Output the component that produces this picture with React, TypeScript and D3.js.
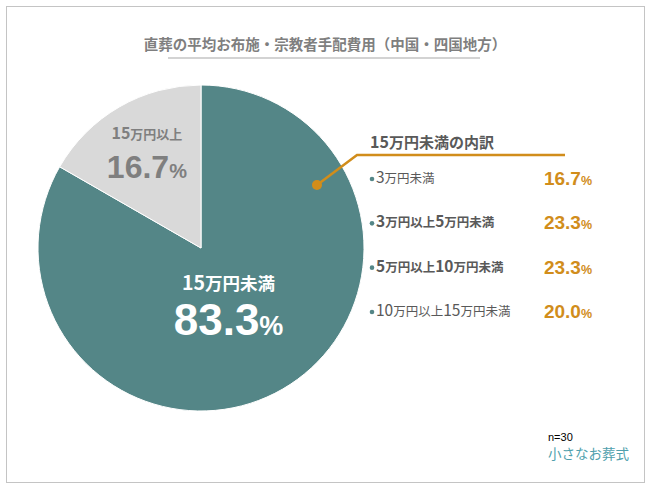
import * as d3 from 'd3'

const W = 650
const H = 487

const TITLE = '直葬の平均お布施・宗教者手配費用（中国・四国地方）'
const pieLabels = ['15万円未満', '15万円以上']
const pieValues = [83.3, 16.7]
const pieColors = ['#548687', '#d9d9d9']

const breakdownTitle = '15万円未満の内訳'
const breakdownLabels = ['3万円未満', '3万円以上5万円未満', '5万円以上10万円未満', '10万円以上15万円未満']
const breakdownValues = [16.7, 23.3, 23.3, 20.0]
const breakdownBold = [false, true, true, false]

const SAMPLE = 'n=30'
const BRAND = '小さなお葬式'

const FONT = '"Noto Sans CJK JP", "Noto Sans", sans-serif'
const NUM_FONT = '"Liberation Sans", Arial, sans-serif'
const ORANGE = '#d18d1b'
const GRAY_TEXT = '#595959'

const CX = 201
const CY = 248
const R = 163

// split "3万円以上5万円未満" into digit / non-digit runs so numbers can be larger
function runs(s: string) {
  return s.match(/\d+|\D+/g) ?? []
}

// point at a given angle (clockwise from 12 o'clock) and radius from pie centre
function polar(angle: number, r: number) {
  return [CX + r * Math.sin(angle), CY - r * Math.cos(angle)]
}

export default function App() {
  const pie = d3.pie<number>().sort(null).value(d => d)
  const arcs = pie(pieValues)
  const arc = d3.arc<d3.PieArcDatum<number>>().innerRadius(0).outerRadius(R)

  const mid = (a: d3.PieArcDatum<number>) => (a.startAngle + a.endAngle) / 2
  const mainPos = polar(mid(arcs[0]), 55)
  const smallPos = polar(mid(arcs[1]) - 2 * Math.PI, 108)

  // leader dot inside the main slice
  const dot = polar(1.073, 132)

  const rowY = d3.scalePoint<number>().domain(d3.range(breakdownLabels.length)).range([178, 311])

  return (
    <svg width={W} height={H} style={{ position: 'absolute', left: 0, top: 0, background: '#fff' }}>
      <rect x={6.5} y={6.5} width={638} height={476} fill="#fff" stroke="#c4c4c4" strokeWidth={1} />

      {/* title */}
      <text x={325} y={50} textAnchor="middle" fontFamily={FONT} fontWeight={700} fontSize={14.5} fill="#7f7f7f">
        {TITLE}
      </text>
      <line x1={168} x2={480} y1={58} y2={58} stroke="#d3d3d3" strokeWidth={2} />

      {/* pie */}
      <g transform={`translate(${CX},${CY})`}>
        {arcs.map((a, i) => (
          <path key={i} d={arc(a) ?? ''} fill={pieColors[i]} stroke="#fff" strokeWidth={1} />
        ))}
      </g>

      {/* slice labels */}
      <text x={smallPos[0]} y={smallPos[1] - 16} textAnchor="middle" fontFamily={FONT} fontWeight={700} fill="#7f7f7f">
        {runs(pieLabels[1]).map((r, i) => (
          <tspan key={i} fontSize={/\d/.test(r) ? 16 : 13}>{r}</tspan>
        ))}
      </text>
      <text x={smallPos[0]} y={smallPos[1] + 23} textAnchor="middle" fontFamily={NUM_FONT} fontWeight={700} fill="#7f7f7f">
        <tspan fontSize={32}>{pieValues[1].toFixed(1)}</tspan>
        <tspan fontSize={20}>%</tspan>
      </text>

      <text x={mainPos[0]} y={mainPos[1] - 6} textAnchor="middle" fontFamily={FONT} fontWeight={700} fill="#fff">
        {runs(pieLabels[0]).map((r, i) => (
          <tspan key={i} fontSize={/\d/.test(r) ? 19.5 : 17.5}>{r}</tspan>
        ))}
      </text>
      <text x={mainPos[0]} y={mainPos[1] + 39} textAnchor="middle" fontFamily={NUM_FONT} fontWeight={700} fill="#fff">
        <tspan fontSize={44}>{pieValues[0].toFixed(1)}</tspan>
        <tspan fontSize={27}>%</tspan>
      </text>

      {/* leader */}
      <polyline points={`${dot[0]},${dot[1]} 357,155 565,155`} fill="none" stroke={ORANGE} strokeWidth={2.5} />
      <circle cx={dot[0]} cy={dot[1]} r={5} fill={ORANGE} />

      {/* breakdown */}
      <text x={370} y={148} fontFamily={FONT} fontWeight={700} fill={GRAY_TEXT}>
        {runs(breakdownTitle).map((r, i) => (
          <tspan key={i} fontSize={/\d/.test(r) ? 16 : 15}>{r}</tspan>
        ))}
      </text>
      {breakdownLabels.map((lab, i) => {
        const y = rowY(i) ?? 0
        return (
          <g key={i}>
            <circle cx={372} cy={y + 1} r={2.3} fill="#548687" />
            <text x={376} y={y + 5} fontFamily={FONT} fontWeight={breakdownBold[i] ? 700 : 400} fill={GRAY_TEXT}>
              {runs(lab).map((r, j) => (
                <tspan key={j} fontSize={/\d/.test(r) ? 15.5 : 12.5}>{r}</tspan>
              ))}
            </text>
            <text x={592} y={y + 7} textAnchor="end" fontFamily={NUM_FONT} fontWeight={700} fill={ORANGE}>
              <tspan fontSize={19}>{breakdownValues[i].toFixed(1)}</tspan>
              <tspan fontSize={12.5}>%</tspan>
            </text>
          </g>
        )
      })}

      {/* footer */}
      <text x={548} y={441} fontFamily={NUM_FONT} fontSize={11} fill="#000">{SAMPLE}</text>
      <text x={548} y={459} fontFamily='"Noto Sans CJK JP", serif' fontSize={13.5} fill="#4f9fad">{BRAND}</text>
    </svg>
  )
}
